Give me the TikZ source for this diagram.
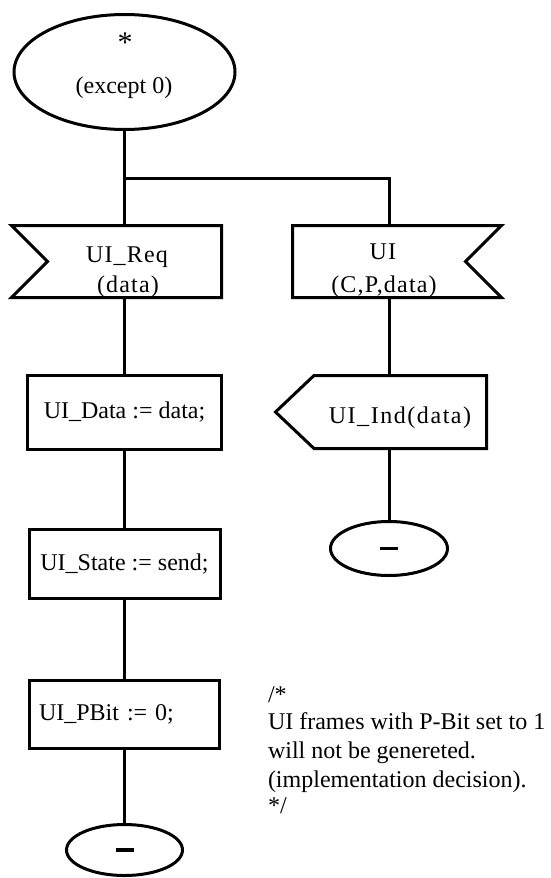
\documentclass[tikz,border=0pt]{standalone}
\usepackage{fontspec}
\setmainfont{Liberation Serif}
\usetikzlibrary{shapes.geometric}
\begin{document}
\begin{tikzpicture}[x=1pt,y=-1pt,
  every node/.style={inner sep=0pt, outer sep=0pt},
  lw/.style={line width=3pt, line join=miter},
  txt/.style={font=\fontsize{24}{28}\selectfont},
  spaced/.style={font=\fontsize{24}{28}\selectfont\addfontfeature{LetterSpace=5}},
  widespaced/.style={font=\fontsize{24}{28}\selectfont\addfontfeature{LetterSpace=6.5}},
  bigstar/.style={font=\fontsize{30}{30}\selectfont},
  box/.style={draw, lw, rectangle, txt},
  term/.style={draw, lw, ellipse, txt},
  frame/.style={rectangle, draw=none},
  conn/.style={line width=3pt}
]
\useasboundingbox (0,0) rectangle (551,878);

% start symbol
\node[term, minimum width=221pt, minimum height=115pt] (start) at (124.5,72) {};
\node[bigstar, anchor=base] (startstar) at (125,52) {*};
\node[txt, anchor=base] (startcond) at (124,93) {(except 0)};

% input UI_Req
\node[frame, minimum width=210pt, minimum height=72pt] (req) at (116.5,261.5) {};
\draw[lw] (req.north west) -- (req.north east) -- (req.south east) -- (req.south west)
  -- ([xshift=36pt]req.west) -- cycle;
\node[spaced, anchor=base] (reqname) at (127,262) {UI\_Req};
\node[spaced, anchor=base] (reqarg) at (128,292.5) {(data)};

% input UI
\node[frame, minimum width=209pt, minimum height=72pt] (ui) at (397,261.5) {};
\draw[lw] (ui.north west) -- (ui.north east) -- ([xshift=-36pt]ui.east)
  -- (ui.south east) -- (ui.south west) -- cycle;
\node[spaced, anchor=base] (uiname) at (383,259) {UI};
\node[spaced, anchor=base] (uiarg) at (384,292) {(C,P,data)};

% tasks
\node[box, minimum width=194pt, minimum height=74pt] (data) at (124.5,412.5) {UI\_Data := data;};
\node[box, minimum width=191pt, minimum height=69pt] (state) at (124.5,564) {UI\_State := send;};
\node[box, minimum width=190pt, minimum height=68pt, text width=171pt, align=left,
  inner xsep=9.5pt] (pbit) at (124.5,714.5) {UI\_PBit := 0;};

% end left
\node[term, minimum width=116pt, minimum height=51pt] (end1) at (124.5,850)
  {\rule[-1.75pt]{18pt}{3.5pt}};

% output UI_Ind
\node[frame, minimum width=211pt, minimum height=73pt] (ind) at (381,412) {};
\draw[lw] (ind.west) -- ([xshift=38.5pt]ind.north west) -- (ind.north east)
  -- (ind.south east) -- ([xshift=38.5pt]ind.south west) -- cycle;
\node[widespaced, anchor=base] (indtxt) at (400,423) {UI\_Ind(data)};

% end right
\node[term, minimum width=117pt, minimum height=54pt] (end2) at (389,548.5)
  {\rule[-1.75pt]{18pt}{3.5pt}};

% connectors
\coordinate (br) at (124.5,178);
\coordinate (brr) at (389,178);
\draw[conn] (start.south) -- (start.south |- req.north);
\draw[conn, line join=miter] (br) -- (brr) -- (brr |- ui.north);
\draw[conn] (data.north |- req.south) -- (data.north);
\draw[conn] (data.south) -- (state.north);
\draw[conn] (state.south) -- (pbit.north);
\draw[conn] (pbit.south) -- (end1.north);
\draw[conn] (end2.north |- ui.south) -- (end2.north |- ind.north);
\draw[conn] (end2.north |- ind.south) -- (end2.north);

% comment
\node[txt, anchor=base west] (c1) at (268,702) {/*};
\node[txt, anchor=base west] (c2) at (268,729) {UI frames with P-Bit set to 1};
\node[txt, anchor=base west] (c3) at (268,758) {will not be genereted.};
\node[txt, anchor=base west] (c4) at (268,787) {(implementation decision).};
\node[txt, anchor=base west] (c5) at (268,813) {*/};
\end{tikzpicture}
\end{document}
